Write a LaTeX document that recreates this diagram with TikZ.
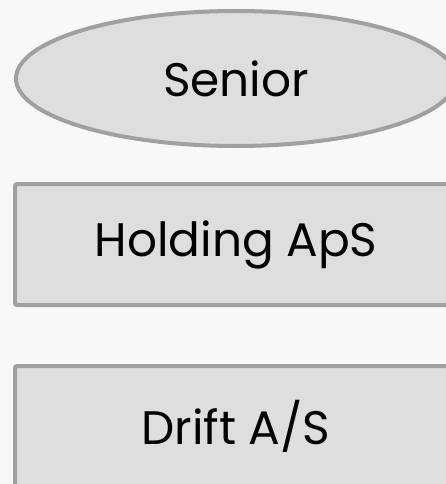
\documentclass[tikz,border=0pt]{standalone}
\usepackage{fontspec}
\setmainfont{Poppins}
\usetikzlibrary{shapes.geometric,positioning}
\definecolor{bgcol}{HTML}{F8F8F8}
\definecolor{boxfill}{HTML}{DEDEDE}
\definecolor{boxline}{HTML}{A0A0A0}
\tikzset{
unit/.style={draw=boxline,fill=boxfill,line width=4pt,inner sep=0pt,font=\fontsize{47}{52}\selectfont},
owner/.style={unit,ellipse,minimum width=440pt,minimum height=135pt},
company/.style={unit,rectangle,rounded corners=2pt,minimum width=442pt,minimum height=121pt}
}

\begin{document}
\begin{tikzpicture}[x=1pt,y=1pt]
\fill[bgcol] (0,0) rectangle (446,-484);
\begin{scope}
\clip (0,0) rectangle (446,-484);
\node[owner] (senior) at (236,-78.5) {Senior};
\node[company,below=34pt of senior] (holding) {Holding ApS};
\node[company,below=57pt of holding] (drift) {Drift A/S};
\end{scope}
\useasboundingbox (0,0) rectangle (446,-484);
\end{tikzpicture}
\end{document}
